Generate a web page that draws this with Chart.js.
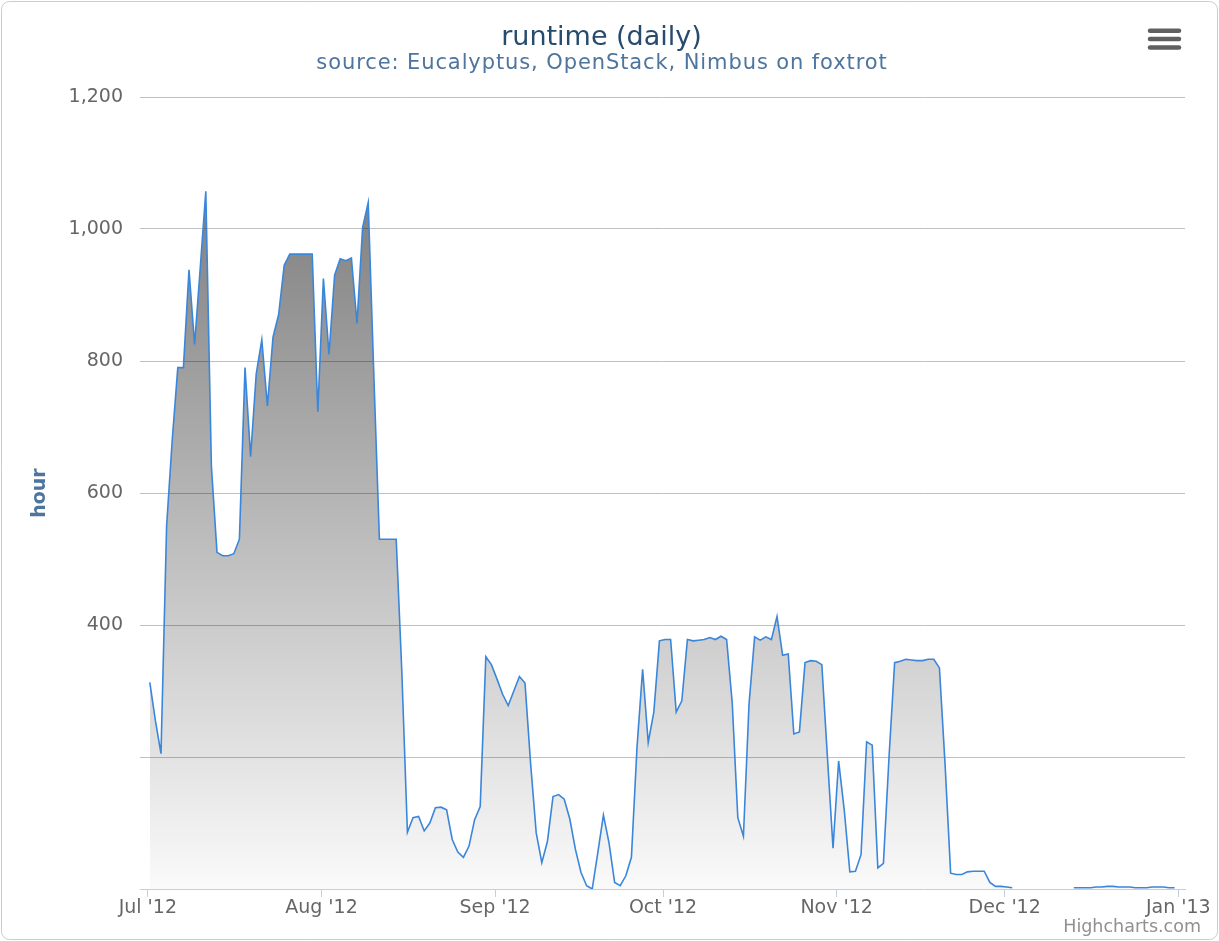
<!DOCTYPE html>
<html>
<head>
<meta charset="utf-8">
<title>runtime (daily)</title>
<script src="https://cdn.jsdelivr.net/npm/chart.js@4/dist/chart.umd.min.js"></script>
<style>
  html, body { margin: 0; padding: 0; background: #fff; }
  canvas { display: block; }
</style>
</head>
<body>
<canvas id="runtimeChart" width="1219" height="941"></canvas>
<script>
// Daily runtime in hours, one entry per day starting Jul 1 2012 (null = no data)
const runtimeHours = [
    313, 255, 205, 550, 680, 790, 790, 938, 825, 940,
    1057, 640, 510, 505, 505, 508, 530, 790, 655, 780,
    832, 732, 836, 870, 945, 962, 962, 962, 962, 962,
    723, 925, 810, 930, 955, 952, 956, 857, 1002, 1040,
    780, 530, 530, 530, 530, 330, 86, 108, 110, 88,
    100, 123, 124, 120, 75, 56, 48, 65, 105, 125,
    352, 340, 318, 295, 278, 300, 322, 312, 190, 85,
    40, 72, 140, 143, 136, 106, 60, 25, 5, 0,
    55, 112, 70, 10, 5, 20, 48, 215, 333, 222,
    268, 376, 378, 378, 268, 285, 378, 376, 377, 378,
    381, 378, 383, 378, 282, 108, 80, 280, 382, 377,
    382, 378, 413, 354, 356, 235, 238, 343, 346, 345,
    340, 200, 62, 194, 120, 26, 27, 52, 223, 218,
    32, 39, 200, 343, 345, 348, 347, 346, 346, 348,
    348, 335, 190, 24, 22, 22, 26, 27, 27, 27,
    10, 4, 4, 3, 2, null, null, null, null, null,
    null, null, null, null, null, 2, 2, 2, 2, 3,
    3, 4, 4, 3, 3, 3, 2, 2, 2, 3,
    3, 3, 2, 2
];
// samples are stamped a few hours into each day
const sampleHourOffset = 0.35;

// Month boundaries, as day offsets from Jul 1 2012
const monthTicks = [0, 31, 62, 92, 123, 153, 184];
const monthLabels = ["Jul '12", "Aug '12", "Sep '12", "Oct '12", "Nov '12", "Dec '12", "Jan '13"];

// Hour axis
const hourTicks = [0, 200, 400, 600, 800, 1000, 1200];
const hourLabels = ['', '', '400', '600', '800', '1,000', '1,200'];

const chartTitle = 'runtime (daily)';
const chartSubtitle = 'source: Eucalyptus, OpenStack, Nimbus on foxtrot';

const FONT = "'DejaVu Sans', Verdana, sans-serif";
const peakHours = Math.max(...runtimeHours.filter(v => v !== null));

// Frame, titles, export menu button and credits text
const chromePlugin = {
    id: 'chrome',
    beforeDraw(chart) {
        const ctx = chart.ctx;
        ctx.save();
        ctx.fillStyle = '#ffffff';
        ctx.fillRect(0, 0, chart.width, chart.height);
        ctx.strokeStyle = '#cccccc';
        ctx.lineWidth = 1;
        ctx.beginPath();
        ctx.roundRect(1.5, 1.5, chart.width - 3, chart.height - 3, 8);
        ctx.stroke();
        ctx.restore();
    },
    afterDraw(chart) {
        const ctx = chart.ctx;
        ctx.save();
        ctx.textAlign = 'center';
        ctx.textBaseline = 'middle';
        ctx.fillStyle = '#274b6d';
        ctx.font = '27px ' + FONT;
        ctx.fillText(chartTitle, 601.5, 37.5);
        ctx.fillStyle = '#4d759e';
        ctx.font = '21px ' + FONT;
        ctx.letterSpacing = '0.9px';
        ctx.fillText(chartSubtitle, 602, 64);
        ctx.letterSpacing = '0px';

        // three-bar menu icon
        ctx.strokeStyle = '#606060';
        ctx.lineWidth = 4.5;
        ctx.lineCap = 'round';
        [30.7, 39, 47.5].forEach(y => {
            ctx.beginPath();
            ctx.moveTo(1150, y);
            ctx.lineTo(1179, y);
            ctx.stroke();
        });
        // credits
        ctx.fillStyle = '#909090';
        ctx.font = '17.5px ' + FONT;
        ctx.textAlign = 'right';
        ctx.textBaseline = 'alphabetic';
        ctx.fillText('Highcharts.com', 1201, 932);
        ctx.restore();
    }
};

const ctx = document.getElementById('runtimeChart').getContext('2d');

const runtimeChart = new Chart(ctx, {
    type: 'line',
    data: {
        datasets: [{
            label: 'runtime',
            data: runtimeHours.map((v, i) => ({ x: i + sampleHourOffset, y: v })),
            borderColor: '#3a86db',
            borderWidth: 1.6,
            pointRadius: 0,
            tension: 0,
            spanGaps: false,
            fill: 'origin',
            backgroundColor(context) {
                const { chart } = context;
                if (!chart.chartArea) return 'rgba(0,0,0,0.25)';
                const y = chart.scales.y;
                const g = chart.ctx.createLinearGradient(0, y.getPixelForValue(peakHours), 0, y.getPixelForValue(0));
                g.addColorStop(0, 'rgba(0,0,0,0.5)');
                g.addColorStop(1, 'rgba(0,0,0,0.02)');
                return g;
            }
        }]
    },
    options: {
        responsive: false,
        animation: false,
        layout: { padding: { top: 97, left: 0, right: 34, bottom: 0 } },
        plugins: {
            legend: { display: false },
            tooltip: { enabled: false },
            title: { display: false },
            subtitle: { display: false }
        },
        scales: {
            x: {
                type: 'linear',
                min: -1.4,
                max: 185.2,
                afterBuildTicks(scale) {
                    scale.ticks = monthTicks.map(v => ({ value: v }));
                },
                afterFit(scale) {
                    scale.height = 52;
                },
                ticks: {
                    autoSkip: false,
                    maxRotation: 0,
                    padding: 0,
                    color: '#666666',
                    font: { family: FONT, size: 19 },
                    callback: value => monthLabels[monthTicks.indexOf(value)]
                },
                grid: {
                    drawOnChartArea: false,
                    drawTicks: true,
                    tickLength: 8,
                    tickColor: '#c0d0e0'
                },
                border: { display: true, color: '#c0d0e0', width: 1 }
            },
            y: {
                min: 0,
                max: 1200,
                afterBuildTicks(scale) {
                    scale.ticks = hourTicks.map(v => ({ value: v }));
                },
                afterFit(scale) {
                    scale.width = 140;
                },
                ticks: {
                    padding: 17,
                    color: '#666666',
                    font: { family: FONT, size: 19 },
                    callback: value => hourLabels[hourTicks.indexOf(value)]
                },
                grid: {
                    drawTicks: false,
                    color: c => (c.tick && c.tick.value === 0 ? 'rgba(0,0,0,0)' : '#c0c0c0')
                },
                border: { display: false },
                title: {
                    display: true,
                    text: 'hour',
                    color: '#4d759e',
                    font: { family: FONT, size: 19, weight: 'bold', lineHeight: 1.2 },
                    padding: { top: 29, bottom: 0 }
                }
            }
        }
    },
    plugins: [chromePlugin]
});
</script>
</body>
</html>
